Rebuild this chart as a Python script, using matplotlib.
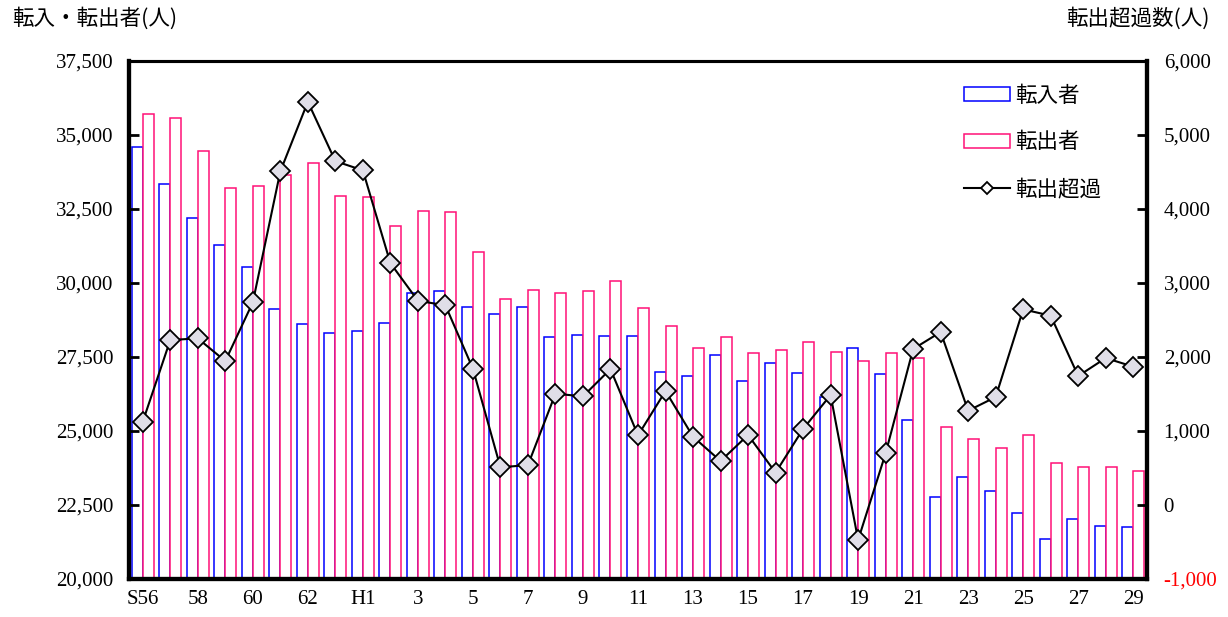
import matplotlib
matplotlib.use('Agg')
import matplotlib.pyplot as plt
import numpy as np
from matplotlib.ticker import FuncFormatter

# years S56..S63, H1..H29
years = ['S56', '57', '58', '59', '60', '61', '62', '63'] + \
        ['H1' if i == 1 else str(i) for i in range(1, 30)]
tick_labels = [y if k % 2 == 0 else '' for k, y in enumerate(years)]

# 転入者
in_people = [34595, 33345, 32206, 31284, 30540, 29112, 28605, 28300,
             28370, 28649, 29652, 29730, 29200, 28963, 29200, 28165,
             28255, 28220, 28220, 27003, 26848, 27578, 26689, 27287,
             26976, 26159, 27794, 26909, 25361, 22770, 23435, 22962,
             22219, 21341, 22017, 21801, 21746]
# 転出者
out_people = [35720, 35585, 34470, 33220, 33290, 33638, 34044, 32950,
              32895, 31915, 32422, 32410, 31047, 29470, 29764, 29652,
              29740, 30056, 29166, 28557, 27794, 28165, 27645, 27736,
              28018, 27658, 27365, 27624, 27477, 25125, 24730, 24414,
              24855, 23919, 23773, 23794, 23638]
# 転出超過
net_out = [1125, 2229, 2252, 1945, 2738, 4508, 5449, 4647,
           4522, 3269, 2760, 2698, 1842, 509, 540, 1504,
           1468, 1837, 941, 1540, 923, 594, 946, 437,
           1027, 1486, -473, 698, 2108, 2337, 1274, 1459,
           2644, 2558, 1743, 1986, 1869]

plt.rcParams['font.family'] = ['Liberation Serif', 'Noto Sans CJK JP']
jp = ['Noto Sans CJK JP', 'DejaVu Sans']
fs = 15
fs_jp = 15.5

fig = plt.figure(figsize=(12.28, 6.17), dpi=100)
ax = fig.add_axes([129 / 1228, 1 - 579 / 617, 1018 / 1228, 518 / 617])
ax2 = ax.twinx()

x = np.arange(len(years))
w = 0.4
ax.bar(x - w / 2, np.array(in_people) - 20000, w, bottom=20000, facecolor='white',
       edgecolor='#0000FF', linewidth=1.1, label='転入者')
ax.bar(x + w / 2, np.array(out_people) - 20000, w, bottom=20000, facecolor='white',
       edgecolor='#FF1177', linewidth=1.1, label='転出者')
ax2.plot(x, net_out, color='black', linewidth=1.5, marker='D', markersize=10,
         markerfacecolor='#E0DEE8', markeredgecolor='black', markeredgewidth=1.3,
         label='転出超過')

ax.set_xlim(-0.5, len(years) - 0.5)
ax.set_ylim(20000, 37500)
ax.set_yticks(np.arange(20000, 37501, 2500))
ax2.set_ylim(-1000, 6000)
ax2.set_yticks(np.arange(-1000, 6001, 1000))

fmt = FuncFormatter(lambda v, p: f'{int(v):,}')
ax.yaxis.set_major_formatter(fmt)
ax2.yaxis.set_major_formatter(fmt)

ax.set_xticks(x)
ax.set_xticklabels(tick_labels, fontsize=fs)
ax.tick_params(axis='x', length=0, pad=8)
ax.tick_params(axis='y', direction='in', length=7, width=2, labelsize=fs, pad=11)
ax2.tick_params(axis='y', direction='in', length=7, width=2, labelsize=fs, pad=12)
ax2.get_yticklabels()[0].set_color('red')

for a in (ax, ax2):
    for s in ('left', 'right', 'bottom'):
        a.spines[s].set_linewidth(3)
    a.spines['top'].set_linewidth(2.2)

fig.text(12 / 1228, 1 - 18 / 617, '転入・転出者(人)', fontsize=fs_jp, family=jp,
         ha='left', va='center')
fig.text(1210 / 1228, 1 - 18 / 617, '転出超過数(人)', fontsize=fs_jp, family=jp,
         ha='right', va='center')

h1, l1 = ax.get_legend_handles_labels()
h2, l2 = ax2.get_legend_handles_labels()
leg = ax2.legend(h1 + h2, l1 + l2, loc='upper left', bbox_to_anchor=(0.81, 0.975),
                 frameon=False, prop={'family': jp, 'size': fs_jp},
                 handlelength=2.1, handleheight=0.6, labelspacing=1.15,
                 handletextpad=0.25, borderpad=0, markerscale=0.6)
leg.legend_handles[2].set_markerfacecolor('white')

fig.savefig('out.png', dpi=100)
